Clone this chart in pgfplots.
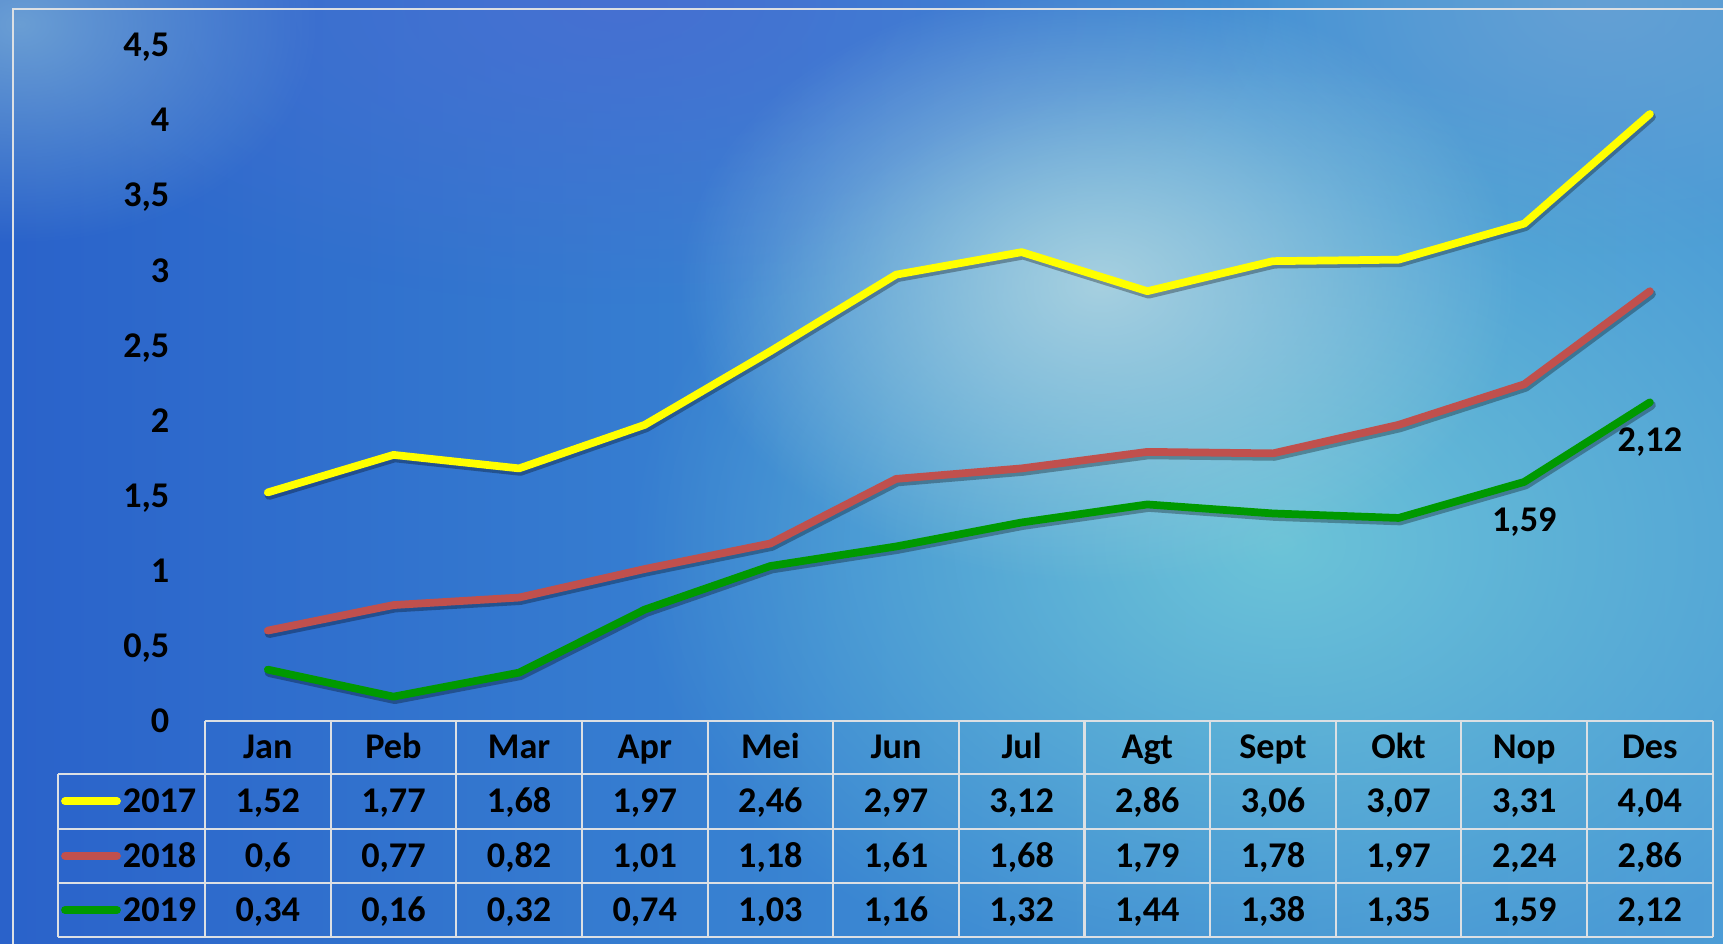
\documentclass[border=0pt]{standalone}
\usepackage{fontspec}
\setmainfont{Carlito}
\usepackage{pgfplots}
\pgfplotsset{compat=1.18}
\usetikzlibrary{fadings}

\definecolor{bgL}{HTML}{2A62CA}
\definecolor{bgM}{HTML}{3A86D2}
\definecolor{bgR}{HTML}{4C9CD6}
\definecolor{topC}{HTML}{4670D2}
\definecolor{glowC}{HTML}{6CC4D8}
\definecolor{glowW}{HTML}{A6D0E0}
\definecolor{glowTL}{HTML}{6A9ED4}
\definecolor{glowTR}{HTML}{64A0D4}
\definecolor{gridC}{HTML}{DCE0E4}
\definecolor{c17}{HTML}{FFFF00}
\definecolor{c18}{HTML}{C0504D}
\definecolor{c19}{HTML}{009900}

\tikzfading[name=glow, inner color=transparent!0, outer color=transparent!100]

\newcommand\lbl{\bfseries\fontsize{10.3}{12}\selectfont}
\pgfplotsset{
  shadowline/.style={black, opacity=0.3, line width=2.6pt, line cap=round, line join=round, xshift=0.4pt, yshift=-0.8pt},
  dataline/.style={line width=2.2pt, line cap=round, line join=round},
}

\begin{document}
\begin{tikzpicture}[x=1mm,y=1mm]
\useasboundingbox (0,0) rectangle (172.3,94.4);
% background
\shade[left color=bgL, right color=bgR, middle color=bgM] (0,0) rectangle (172.3,94.4);
\fill[topC, path fading=glow] (62,94) ellipse [x radius=65, y radius=30];
\fill[glowTR, path fading=glow] (160,94) ellipse [x radius=40, y radius=25];
\fill[glowC, path fading=glow] (128,40) ellipse [x radius=65, y radius=48];
\fill[glowW, path fading=glow] (110,66) ellipse [x radius=42, y radius=30];
\fill[glowTL, path fading=glow] (2,92) ellipse [x radius=30, y radius=22];
\draw[gridC, line width=0.6pt] (1.26,0) -- (1.26,93.47) -- (172.3,93.47);

\begin{axis}[
  scale only axis,
  width=150.77mm, height=67.58mm,
  at={(20.5mm,22.33mm)}, anchor=south west,
  xmin=-0.5, xmax=11.5, ymin=0, ymax=4.5,
  xtick=\empty,
  ytick={0,0.5,1,1.5,2,2.5,3,3.5,4,4.5},
  yticklabels={0,{0,5},1,{1,5},2,{2,5},3,{3,5},4,{4,5}},
  yticklabel style={font=\lbl, inner sep=0pt, anchor=east, xshift=-3.5mm, text depth=0pt},
  axis line style={draw=none},
  major tick length=0pt,
  clip=false,
]
\pgfplotstableread{
m    a    b    c
0  1.52 0.60 0.34
1  1.77 0.77 0.16
2  1.68 0.82 0.32
3  1.97 1.01 0.74
4  2.46 1.18 1.03
5  2.97 1.61 1.16
6  3.12 1.68 1.32
7  2.86 1.79 1.44
8  3.06 1.78 1.38
9  3.07 1.97 1.35
10 3.31 2.24 1.59
11 4.04 2.86 2.12
}\data
\addplot[shadowline] table[x=m, y=a] {\data};
\addplot[c17, dataline] table[x=m, y=a] {\data};
\addplot[shadowline] table[x=m, y=b] {\data};
\addplot[c18, dataline] table[x=m, y=b] {\data};
\addplot[shadowline] table[x=m, y=c] {\data};
\addplot[c19, dataline] table[x=m, y=c] {\data};
\node[font=\lbl, yshift=-4mm] at (axis cs:10,1.59) {1,59};
\node[font=\lbl, yshift=-4mm] at (axis cs:11,2.12) {2,12};
\end{axis}

% data table
\foreach \k in {0,...,12}
  \draw[gridC, line width=0.6pt] ({20.5+12.564*\k},0.7) -- ({20.5+12.564*\k},22.33);
\draw[gridC, line width=0.6pt] (5.8,0.7) -- (5.8,17.0);
\draw[gridC, line width=0.6pt] (20.5,22.33) -- (171.27,22.33);
\foreach \yy in {17.0,11.53,6.1,0.7}
  \draw[gridC, line width=0.6pt] (5.8,\yy) -- (171.27,\yy);

\foreach \m [count=\i from 0] in {Jan,Peb,Mar,Apr,Mei,Jun,Jul,Agt,Sept,Okt,Nop,Des}
  \node[font=\lbl, anchor=base, inner sep=0pt] at ({26.782+12.564*\i},18.52) {\m};
\foreach \v [count=\i from 0] in {{1,52},{1,77},{1,68},{1,97},{2,46},{2,97},{3,12},{2,86},{3,06},{3,07},{3,31},{4,04}}
  \node[font=\lbl, anchor=base, inner sep=0pt] at ({26.782+12.564*\i},13.12) {\v};
\foreach \v [count=\i from 0] in {{0,6},{0,77},{0,82},{1,01},{1,18},{1,61},{1,68},{1,79},{1,78},{1,97},{2,24},{2,86}}
  \node[font=\lbl, anchor=base, inner sep=0pt] at ({26.782+12.564*\i},7.67) {\v};
\foreach \v [count=\i from 0] in {{0,34},{0,16},{0,32},{0,74},{1,03},{1,16},{1,32},{1,44},{1,38},{1,35},{1,59},{2,12}}
  \node[font=\lbl, anchor=base, inner sep=0pt] at ({26.782+12.564*\i},2.25) {\v};

\draw[c17, line width=2.2pt, line cap=round] (6.5,14.27) -- (11.7,14.27);
\draw[c18, line width=2.2pt, line cap=round] (6.5,8.82) -- (11.7,8.82);
\draw[c19, line width=2.2pt, line cap=round] (6.5,3.4) -- (11.7,3.4);
\node[font=\lbl, anchor=base east, inner sep=0pt] at (19.7,13.12) {2017};
\node[font=\lbl, anchor=base east, inner sep=0pt] at (19.7,7.67) {2018};
\node[font=\lbl, anchor=base east, inner sep=0pt] at (19.7,2.25) {2019};
\end{tikzpicture}
\end{document}
